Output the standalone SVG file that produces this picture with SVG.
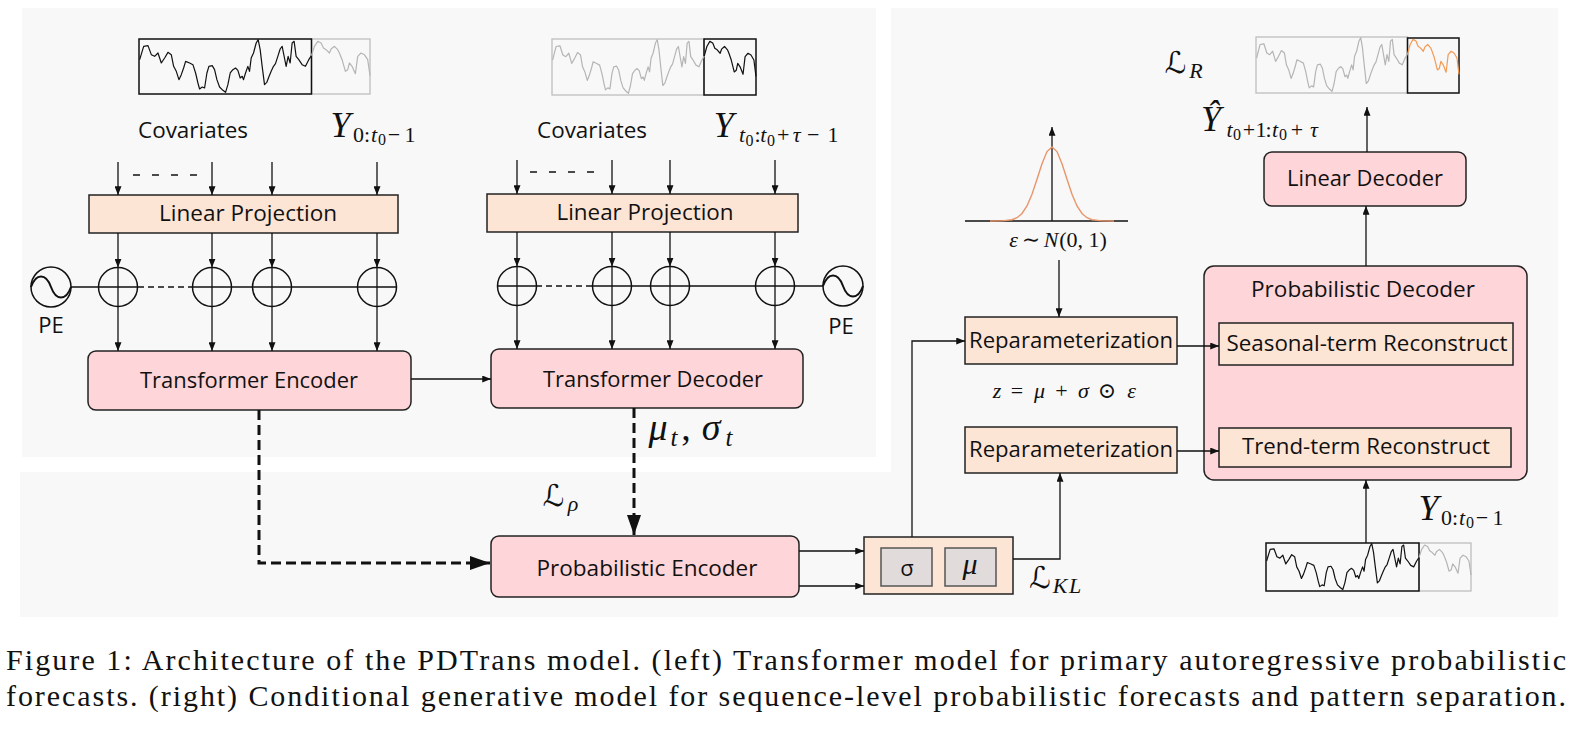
<svg xmlns="http://www.w3.org/2000/svg" width="1576" height="732" viewBox="0 0 1576 732">
<defs>
<style>
.bg{fill:#f8f8f8}
.lbl{font-family:"Open Sans","Noto Sans","Liberation Sans",sans-serif;font-size:22px;fill:#111;text-anchor:middle}
.m{font-family:"Liberation Serif","DejaVu Serif",serif;fill:#111;text-anchor:middle}
.i{font-style:italic}
.cal{font-family:"DejaVu Sans",sans-serif;font-style:normal}
.pink{fill:#fed5d8;stroke:#222;stroke-width:1.5}
.peach{fill:#fde5d6;stroke:#222;stroke-width:1.5}
.gbox{fill:#e1dcdb;stroke:#555;stroke-width:1.5}
.c{fill:none;stroke:#111;stroke-width:1.3}
.arr{marker-end:url(#ah)}
.thin-dash{stroke-dasharray:6 4}
.thick{fill:none;stroke:#111;stroke-width:3;stroke-dasharray:10 5;marker-end:url(#ahb)}
.ts{fill:none;stroke-width:1.2;vector-effect:non-scaling-stroke;stroke-linejoin:round}
.k{stroke:#111}.g{stroke:#b5b5b5}.o{stroke:#f39a55}
.bk{fill:none;stroke:#111;stroke-width:1.5}
.bgr{fill:none;stroke:#bdbdbd;stroke-width:1.3}
.circ{fill:none;stroke:#111;stroke-width:1.5}
.cap{font-family:"Liberation Serif","Times New Roman",serif;font-size:30px;fill:#111}
.b{font-size:36px}.s{font-size:22px}.ss{font-size:16px}
</style>
<marker id="ah" viewBox="0 0 10 8" refX="10" refY="4" markerWidth="9" markerHeight="7" orient="auto" markerUnits="userSpaceOnUse"><path d="M0,0 L10,4 L0,8 z" fill="#111"/></marker>
<marker id="ahb" viewBox="0 0 20 14" refX="20" refY="7" markerWidth="20" markerHeight="14" orient="auto" markerUnits="userSpaceOnUse"><path d="M0,0 L20,7 L0,14 z" fill="#111"/></marker>
<path id="sA" class="ts" d="M2,62 L14,22 L27,20 L37,47 L47,52 L57,42 L67,72 L77,57 L87,40 L97,47 L104,82 L112,97 L120,122 L127,107 L134,87 L140,67 L152,72 L162,77 L170,102 L177,132 L182,150 L190,144 L197,147 L204,102 L210,82 L220,80 L227,92 L234,122 L242,144 L252,154 L260,160 L267,137 L274,102 L282,92 L290,87 L297,94 L304,117 L310,112 L314,122 L320,102 L327,82 L332,97 L337,57 L344,42 L352,12 L358,2 L364,32 L370,82 L377,137 L384,130 L390,114 L397,97 L404,82 L410,74 L417,52 L424,30 L430,22 L437,57 L442,82 L448,52 L454,72 L460,12 L466,7 L472,52 L480,62 L490,77 L500,82 L510,62 L518,50"/>
<path id="sB" class="ts" d="M518,50 L527,22 L537,7 L547,12 L554,27 L562,32 L572,42 L577,30 L587,22 L597,32 L602,42 L610,62 L620,97 L627,92 L632,72 L640,82 L650,104 L657,52 L667,42 L677,47 L687,62 L694,110"/>
</defs>

<rect x="0" y="0" width="1576" height="732" fill="#ffffff"/>
<g id="panels">
<rect class="bg" x="22" y="8" width="854" height="449"/>
<rect class="bg" x="891" y="8" width="667" height="609"/>
<rect class="bg" x="20" y="472" width="1538" height="145"/>
</g>

<g id="ts-input-left">
<rect class="bgr" x="311.5" y="39" width="58.5" height="55"/>
<rect class="bk" x="139" y="39" width="172.5" height="55"/>
<use href="#sA" class="k" transform="translate(139,39) scale(0.3329,0.3333)"/>
<use href="#sB" class="g" transform="translate(139,39) scale(0.3329,0.3333)"/>
</g>

<g id="ts-input-right">
<rect class="bgr" x="552" y="39" width="152" height="56"/>
<rect class="bk" x="704" y="39" width="52" height="56"/>
<use href="#sA" class="g" transform="translate(552,39) scale(0.2939,0.3394)"/>
<use href="#sB" class="k" transform="translate(552,39) scale(0.2939,0.3394)"/>
</g>

<g id="label-cov-left">
<text class="lbl" x="193" y="138" textLength="110" lengthAdjust="spacingAndGlyphs">Covariates</text>
<text class="m"><tspan class="i b" x="340.5" y="137">Y</tspan><tspan class="s" x="358.5" y="142">0</tspan><tspan class="s" x="367" y="142">:</tspan><tspan class="i s" x="374" y="142">t</tspan><tspan class="ss" x="382" y="145">0</tspan><tspan class="s" x="394" y="142">−</tspan><tspan class="s" x="410" y="142">1</tspan></text>
</g>

<g id="label-cov-right">
<text class="lbl" x="592" y="138" textLength="110" lengthAdjust="spacingAndGlyphs">Covariates</text>
<text class="m"><tspan class="i b" x="723.7" y="137">Y</tspan><tspan class="i s" x="742" y="142">t</tspan><tspan class="ss" x="749.5" y="146">0</tspan><tspan class="s" x="757.5" y="142">:</tspan><tspan class="i s" x="763.3" y="142">t</tspan><tspan class="ss" x="771" y="146">0</tspan><tspan class="s" x="783.3" y="142">+</tspan><tspan class="i s" x="796.7" y="142">τ</tspan><tspan class="s" x="813.3" y="142">−</tspan><tspan class="s" x="833" y="142">1</tspan></text>
</g>

<g id="linear-projection-left">
<rect class="peach" x="89" y="195" width="309" height="38"/>
<text class="lbl" x="248" y="221" textLength="178" lengthAdjust="spacingAndGlyphs">Linear Projection</text>
</g>

<g id="linear-projection-right">
<rect class="peach" x="487" y="194" width="311" height="38"/>
<text class="lbl" x="645" y="220" textLength="177" lengthAdjust="spacingAndGlyphs">Linear Projection</text>
</g>

<g id="adders-left">
<circle class="circ" cx="118" cy="287" r="19.5"/>
<circle class="circ" cx="212" cy="287" r="19.5"/>
<circle class="circ" cx="272" cy="287" r="19.5"/>
<circle class="circ" cx="377" cy="287" r="19.5"/>
</g>

<g id="adders-right">
<circle class="circ" cx="517" cy="286" r="19.5"/>
<circle class="circ" cx="612" cy="286" r="19.5"/>
<circle class="circ" cx="670" cy="286" r="19.5"/>
<circle class="circ" cx="775" cy="286" r="19.5"/>
</g>

<g id="pe-left">
<circle class="circ" cx="51" cy="287" r="20"/>
<path d="M31,287 C36,273 46,273 51,287 C56,301 66,301 71,287" fill="none" stroke="#111" stroke-width="2"/>
<text class="lbl" x="51" y="333">PE</text>
</g>

<g id="pe-right">
<circle class="circ" cx="843" cy="286" r="20"/>
<path d="M823,286 C828,272 838,272 843,286 C848,300 858,300 863,286" fill="none" stroke="#111" stroke-width="2"/>
<text class="lbl" x="841" y="334">PE</text>
</g>

<g id="transformer-encoder">
<rect class="pink" x="88" y="351" width="323" height="59" rx="8"/>
<text class="lbl" x="249" y="388" textLength="218" lengthAdjust="spacingAndGlyphs">Transformer Encoder</text>
</g>

<g id="transformer-decoder">
<rect class="pink" x="491" y="349" width="312" height="59" rx="8"/>
<text class="lbl" x="653" y="387" textLength="220" lengthAdjust="spacingAndGlyphs">Transformer Decoder</text>
</g>

<g id="label-mu-sigma">
<text class="m"><tspan class="i" x="658" y="440" font-size="38">μ</tspan><tspan class="i" x="674" y="446" font-size="25">t</tspan><tspan x="686" y="440" font-size="38">,</tspan><tspan class="i" x="711" y="440" font-size="38">σ</tspan><tspan class="i" x="729" y="446" font-size="25">t</tspan></text>
</g>

<g id="label-L-rho">
<text class="m"><tspan class="cal" x="553.5" y="506" font-size="30">ℒ</tspan><tspan class="i s" x="573" y="511">ρ</tspan></text>
</g>

<g id="probabilistic-encoder">
<rect class="pink" x="491" y="536" width="308" height="61" rx="8"/>
<text class="lbl" x="647" y="576" textLength="221" lengthAdjust="spacingAndGlyphs">Probabilistic Encoder</text>
</g>

<g id="sigma-mu">
<rect class="peach" x="864" y="537" width="149" height="57"/>
<rect class="gbox" x="881" y="548" width="51" height="38"/>
<rect class="gbox" x="945" y="548" width="51" height="38"/>
<text class="lbl" x="907" y="576" font-size="30px">σ</text>
<text class="m i" x="970" y="574" font-size="30">μ</text>
</g>

<g id="label-L-KL">
<text class="m"><tspan class="cal" x="1040" y="588" font-size="30">ℒ</tspan><tspan class="i s" x="1060" y="593">K</tspan><tspan class="i s" x="1075" y="593">L</tspan></text>
</g>

<g id="gaussian">
<path class="c" d="M965,221 H1128"/>
<path class="c arr" d="M1052,221 V127"/>
<polyline fill="none" stroke="#e8956a" stroke-width="1.4" points="990,221 1002,220.9 1012,219.75 1017,217.75 1022,213.5 1027,206 1032,194.3 1037,179.3 1042,163.7 1047,151.6 1052,147 1057,151.6 1062,163.7 1067,179.3 1072,194.3 1077,206 1082,213.5 1087,217.75 1092,219.75 1102,220.9 1114,221"/>
<text class="m s"><tspan class="i" x="1013.5" y="247">ε</tspan><tspan x="1031" y="247">∼</tspan><tspan class="i" x="1051" y="247">N</tspan><tspan x="1083" y="247">(0, 1)</tspan></text>
</g>

<g id="reparam-1">
<rect class="peach" x="965" y="317" width="212" height="47"/>
<text class="lbl" x="1071" y="348" textLength="204" lengthAdjust="spacingAndGlyphs">Reparameterization</text>
</g>

<g id="label-z">
<text class="m s"><tspan class="i" x="997" y="398">z</tspan><tspan x="1017" y="398">=</tspan><tspan class="i" x="1039.5" y="398">μ</tspan><tspan x="1061.5" y="398">+</tspan><tspan class="i" x="1083.5" y="398">σ</tspan><tspan x="1107" y="398">⊙</tspan><tspan class="i" x="1131.5" y="398">ε</tspan></text>
</g>

<g id="reparam-2">
<rect class="peach" x="965" y="427" width="212" height="46"/>
<text class="lbl" x="1071" y="457" textLength="204" lengthAdjust="spacingAndGlyphs">Reparameterization</text>
</g>

<g id="probabilistic-decoder">
<rect class="pink" x="1204" y="266" width="323" height="214" rx="10"/>
<text class="lbl" x="1363" y="297" textLength="224" lengthAdjust="spacingAndGlyphs">Probabilistic Decoder</text>
</g>

<g id="seasonal-reconstruct">
<rect class="peach" x="1219" y="323" width="294" height="42"/>
<text class="lbl" x="1367" y="351" textLength="281" lengthAdjust="spacingAndGlyphs">Seasonal-term Reconstruct</text>
</g>

<g id="trend-reconstruct">
<rect class="peach" x="1219" y="428" width="292" height="39"/>
<text class="lbl" x="1366" y="454" textLength="248" lengthAdjust="spacingAndGlyphs">Trend-term Reconstruct</text>
</g>

<g id="linear-decoder">
<rect class="pink" x="1264" y="152" width="202" height="54" rx="8"/>
<text class="lbl" x="1365" y="186" textLength="156" lengthAdjust="spacingAndGlyphs">Linear Decoder</text>
</g>

<g id="ts-output">
<rect class="bgr" x="1256" y="37" width="151.5" height="56"/>
<rect class="bk" x="1407.5" y="38" width="51.5" height="55"/>
<use href="#sA" class="g" transform="translate(1256,37) scale(0.2925,0.3394)"/>
<use href="#sB" class="o" transform="translate(1256,37) scale(0.2925,0.3394)"/>
</g>

<g id="label-L-R">
<text class="m"><tspan class="cal" x="1175.5" y="73" font-size="30">ℒ</tspan><tspan class="i s" x="1196" y="78">R</tspan></text>
</g>

<g id="label-Yhat">
<text class="m"><tspan class="i b" x="1211" y="131">Ŷ</tspan><tspan class="i s" x="1229.5" y="137">t</tspan><tspan class="ss" x="1237" y="140">0</tspan><tspan class="s" x="1249" y="137">+</tspan><tspan class="s" x="1261" y="137">1</tspan><tspan class="s" x="1268.5" y="137">:</tspan><tspan class="i s" x="1275" y="137">t</tspan><tspan class="ss" x="1283" y="140">0</tspan><tspan class="s" x="1297" y="137">+</tspan><tspan class="i s" x="1314" y="137">τ</tspan></text>
</g>

<g id="ts-history">
<rect class="bgr" x="1419" y="543" width="52" height="48"/>
<rect class="bk" x="1266" y="543" width="153" height="48"/>
<use href="#sA" class="k" transform="translate(1266,543) scale(0.2954,0.2909)"/>
<use href="#sB" class="g" transform="translate(1266,543) scale(0.2954,0.2909)"/>
</g>

<g id="label-Y-history">
<text class="m"><tspan class="i b" x="1428.5" y="520">Y</tspan><tspan class="s" x="1446.5" y="525">0</tspan><tspan class="s" x="1455" y="525">:</tspan><tspan class="i s" x="1462" y="525">t</tspan><tspan class="ss" x="1470" y="528">0</tspan><tspan class="s" x="1482" y="525">−</tspan><tspan class="s" x="1498" y="525">1</tspan></text>
</g>

<g id="caption">
<text class="cap" x="6" y="670" textLength="1560" lengthAdjust="spacing">Figure 1: Architecture of the PDTrans model. (left) Transformer model for primary autoregressive probabilistic</text>
<text class="cap" x="6" y="706" textLength="1560" lengthAdjust="spacing">forecasts. (right) Conditional generative model for sequence-level probabilistic forecasts and pattern separation.</text>
</g>

<g id="connectors">
<path class="c arr" d="M118,162 V195"/>
<path class="c arr" d="M212,162 V195"/>
<path class="c arr" d="M272,162 V195"/>
<path class="c arr" d="M377,162 V195"/>
<path class="c" d="M133,175 H197" stroke-dasharray="7 12"/>
<path class="c arr" d="M517,160 V194"/>
<path class="c arr" d="M612,160 V194"/>
<path class="c arr" d="M670,160 V194"/>
<path class="c arr" d="M775,160 V194"/>
<path class="c" d="M530,172 H595" stroke-dasharray="7 12"/>
<path class="c arr" d="M118,233 V267.5"/>
<path class="c arr" d="M212,233 V267.5"/>
<path class="c arr" d="M272,233 V267.5"/>
<path class="c arr" d="M377,233 V267.5"/>
<path class="c arr" d="M118,306.5 V351"/>
<path class="c arr" d="M212,306.5 V351"/>
<path class="c arr" d="M272,306.5 V351"/>
<path class="c arr" d="M377,306.5 V351"/>
<path class="c" d="M71,287 H138"/>
<path class="c thin-dash" d="M138,287 H193"/>
<path class="c" d="M193,287 H396.5"/>
<path class="c" d="M118,267.5 V306.5 M212,267.5 V306.5 M272,267.5 V306.5 M377,267.5 V306.5"/>
<path class="c arr" d="M517,232 V266.5"/>
<path class="c arr" d="M612,232 V266.5"/>
<path class="c arr" d="M670,232 V266.5"/>
<path class="c arr" d="M775,232 V266.5"/>
<path class="c arr" d="M517,305.5 V349"/>
<path class="c arr" d="M612,305.5 V349"/>
<path class="c arr" d="M670,305.5 V349"/>
<path class="c arr" d="M775,305.5 V349"/>
<path class="c" d="M497.5,286 H536"/>
<path class="c thin-dash" d="M536,286 H591"/>
<path class="c" d="M591,286 H823"/>
<path class="c" d="M517,266.5 V305.5 M612,266.5 V305.5 M670,266.5 V305.5 M775,266.5 V305.5"/>
<path class="c arr" d="M411,379 H491"/>
<path class="thick" d="M259,410 V563 H490"/>
<path class="thick" d="M634,408 V535"/>
<path class="c arr" d="M799,551 H864"/>
<path class="c arr" d="M799,586 H864"/>
<path class="c arr" d="M912,537 V341 H965"/>
<path class="c arr" d="M1013,559 H1060 V473"/>
<path class="c arr" d="M1059,260 V317"/>
<path class="c arr" d="M1177,346 H1219"/>
<path class="c arr" d="M1177,451 H1219"/>
<path class="c arr" d="M1366,543 V480"/>
<path class="c arr" d="M1366,266 V206"/>
<path class="c arr" d="M1367,152 V107"/>
</g>
</svg>
